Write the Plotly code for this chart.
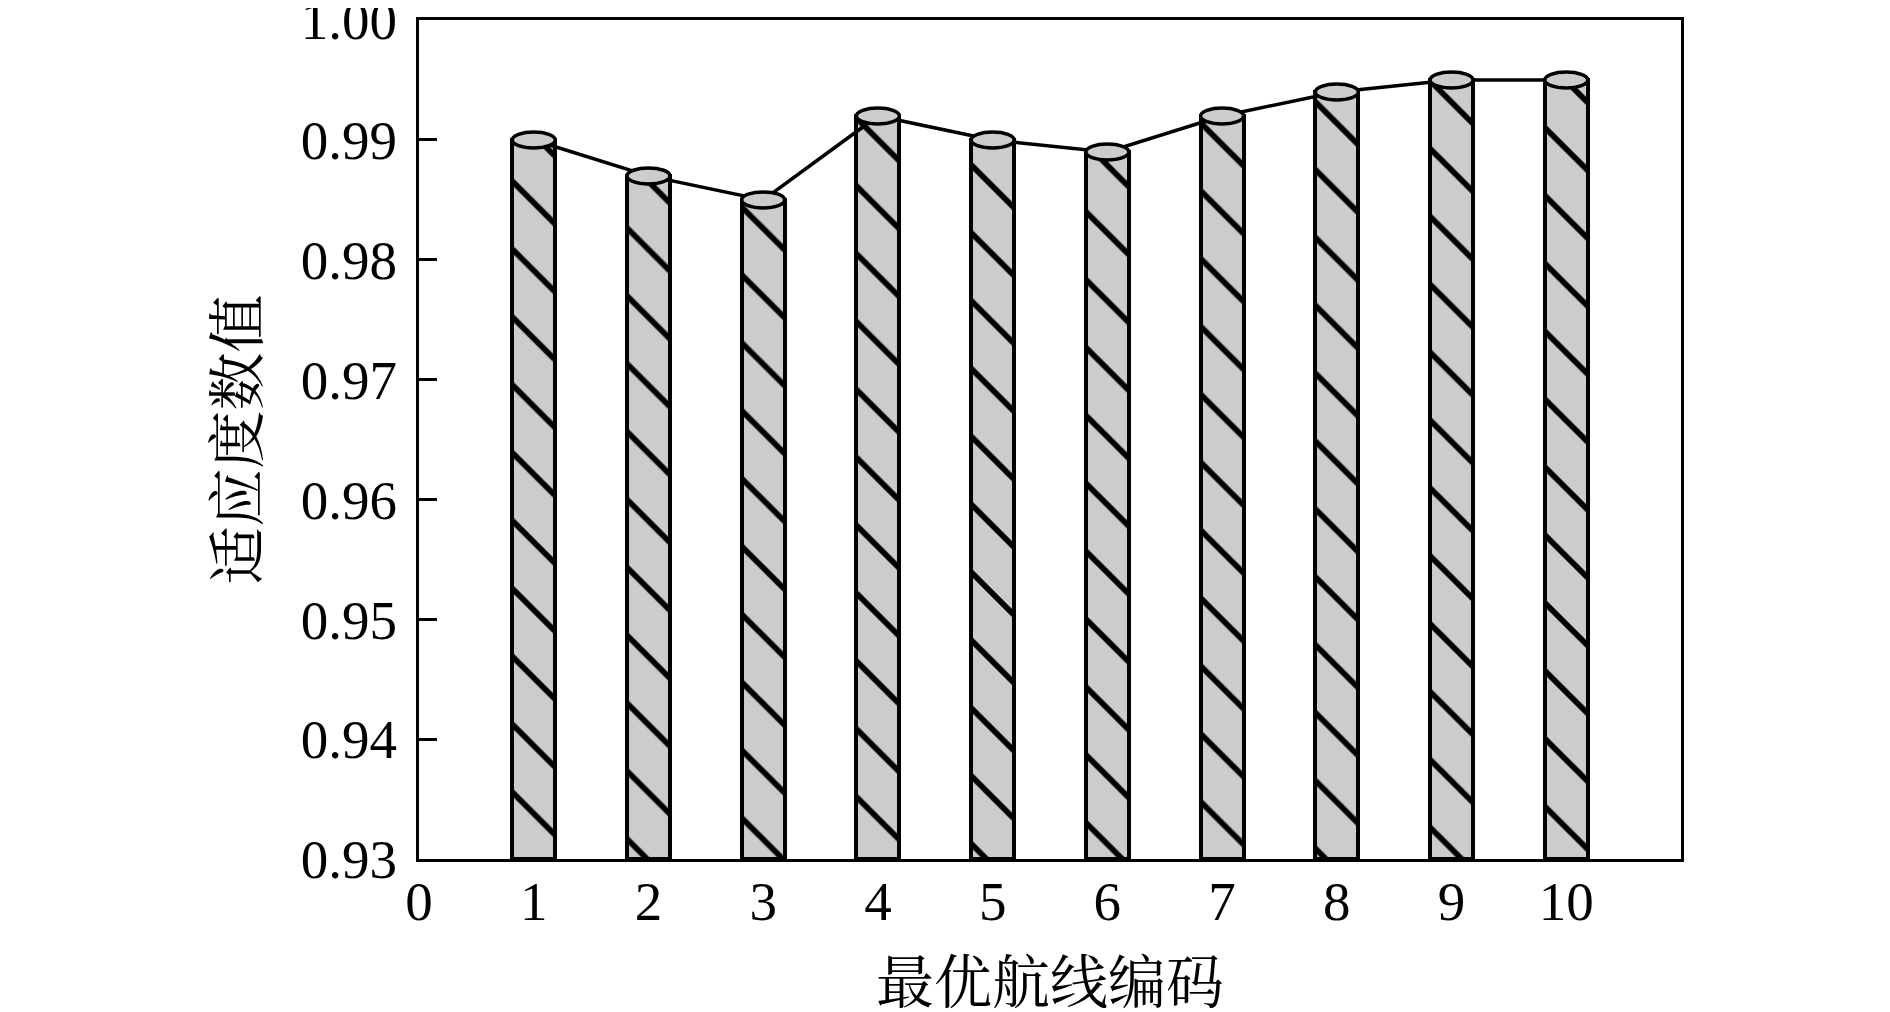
import plotly.graph_objects as go

routes = [1, 2, 3, 4, 5, 6, 7, 8, 9, 10]
fitness = [0.990, 0.987, 0.985, 0.992, 0.990, 0.989, 0.992, 0.994, 0.995, 0.995]
y_ticks = [0.93, 0.94, 0.95, 0.96, 0.97, 0.98, 0.99, 1.00]
x_ticks = list(range(0, 11))

BASE = 0.93
BAR_W = 0.375
GRAY = "#cccccc"

fig = go.Figure()

fig.add_trace(
    go.Bar(
        x=routes,
        y=[v - BASE for v in fitness],
        base=BASE,
        width=BAR_W,
        marker=dict(
            color=GRAY,
            line=dict(color="black", width=4),
            pattern=dict(shape="\\", fgcolor="black", bgcolor=GRAY, fgopacity=1,
                         size=48, solidity=0.12, fillmode="overlay"),
        ),
        showlegend=False,
    )
)

fig.add_trace(
    go.Scatter(
        x=routes,
        y=fitness,
        mode="lines",
        line=dict(color="black", width=3.5),
        showlegend=False,
        cliponaxis=False,
    )
)

# cylinder caps
for x, v in zip(routes, fitness):
    fig.add_shape(
        type="circle",
        xref="x", yref="y",
        x0=x - BAR_W / 2, x1=x + BAR_W / 2,
        ysizemode="pixel", yanchor=v, y0=-8, y1=8,
        fillcolor=GRAY,
        line=dict(color="black", width=3.5),
        layer="above",
    )

font = dict(family="Liberation Serif, Times New Roman, serif", size=55, color="black")
cjk = dict(family="Noto Serif CJK SC, Noto Sans CJK SC, serif", size=58, color="black")

fig.update_layout(
    width=1890,
    height=1012,
    margin=dict(l=411, r=217, t=12, b=161, autoexpand=False),
    paper_bgcolor="white",
    plot_bgcolor="white",
    font=font,
    bargap=0,
)

fig.update_xaxes(
    range=[0, 11],
    tickvals=x_ticks,
    ticks="",
    showgrid=False,
    zeroline=False,
    showline=True,
    linecolor="black",
    linewidth=3,
    mirror=True,
    tickfont=font,
    ticklabelstandoff=-8,
    automargin=False,
    title=dict(text="最优航线编码", font=cjk, standoff=32),
)

fig.update_yaxes(
    range=[0.93, 1.00001],
    tickvals=y_ticks,
    tickformat=".2f",
    ticks="inside",
    ticklen=18,
    tickwidth=3,
    tickcolor="black",
    showgrid=False,
    zeroline=False,
    showline=True,
    linecolor="black",
    linewidth=3,
    mirror=True,
    tickfont=font,
    ticklabelstandoff=8,
    ticklabeloverflow="allow",
    automargin=False,
    title=dict(text="适应度数值", font=cjk, standoff=24),
)

fig.write_html("out.html")
